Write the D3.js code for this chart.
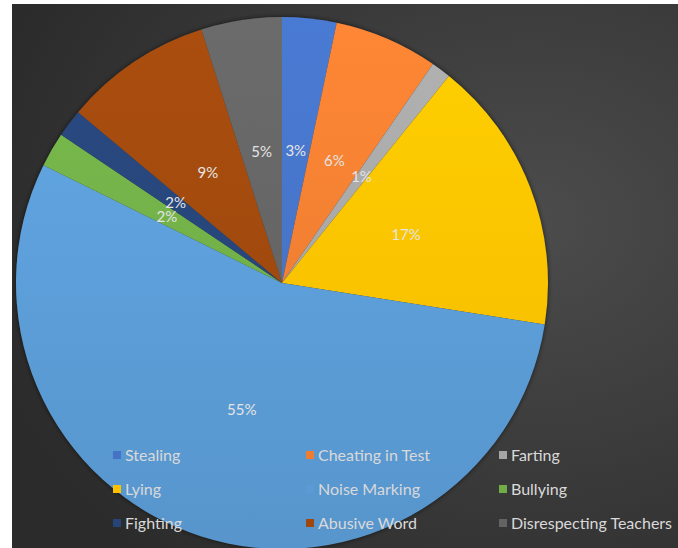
<!DOCTYPE html>
<html>
<head>
<meta charset="utf-8">
<script src="https://cdn.jsdelivr.net/npm/d3@7"></script>
<style>
  html, body { margin: 0; padding: 0; background: #fff; }
  svg { display: block; }
  text { font-family: Lato, "Open Sans", sans-serif; }
</style>
</head>
<body>
<div id="chart"></div>
<script>
const width = 678;
const height = 548;

// slice shares, clockwise from 12 o'clock
const categories = [
  "Stealing", "Cheating in Test", "Farting",
  "Lying", "Noise Marking", "Bullying",
  "Fighting", "Abusive Word", "Disrespecting Teachers"
];
const values = [3.3, 6.3, 1.2, 16.7, 54.8, 2.1, 1.7, 9.0, 4.9];
const colors = [
  "#4472c4", "#ed7d31", "#a5a5a5",
  "#ffc000", "#5b9bd5", "#70ad47",
  "#264478", "#9e480e", "#636363"
];

const cx = 282;
const cy = 283;
const radius = 266;

const svg = d3
  .select("#chart")
  .append("svg")
  .attr("width", width)
  .attr("height", height);

const defs = svg.append("defs");

// chart area background
const bg = defs
  .append("radialGradient")
  .attr("id", "bg")
  .attr("cx", "78%")
  .attr("cy", "40%")
  .attr("r", "85%");
bg.append("stop").attr("offset", "0%").attr("stop-color", "#4c4c4c");
bg.append("stop").attr("offset", "100%").attr("stop-color", "#2b2b2b");

const shadow = defs
  .append("filter")
  .attr("id", "shadow")
  .attr("x", "-10%")
  .attr("y", "-10%")
  .attr("width", "120%")
  .attr("height", "120%");
shadow
  .append("feDropShadow")
  .attr("dx", 0)
  .attr("dy", 0)
  .attr("stdDeviation", 2.5)
  .attr("flood-color", "#000")
  .attr("flood-opacity", 0.6);

// vertical gradient per slice: lighter at the top
colors.forEach((c, i) => {
  const g = defs
    .append("linearGradient")
    .attr("id", `grad${i}`)
    .attr("gradientUnits", "userSpaceOnUse")
    .attr("x1", 0)
    .attr("y1", -radius)
    .attr("x2", 0)
    .attr("y2", radius);
  g.append("stop").attr("offset", "0%").attr("stop-color", d3.color(c).brighter(0.22));
  g.append("stop").attr("offset", "100%").attr("stop-color", d3.color(c).darker(0.12));
});

svg
  .append("rect")
  .attr("x", 12)
  .attr("y", 4)
  .attr("width", width - 12)
  .attr("height", height - 4)
  .attr("fill", "url(#bg)");

const clip = defs.append("clipPath").attr("id", "area");
clip
  .append("rect")
  .attr("x", 12)
  .attr("y", 4)
  .attr("width", width - 12)
  .attr("height", height - 4);

const pie = d3.pie().sort(null).value((d) => d);
const arcs = pie(values);
const total = d3.sum(values);

const arc = d3.arc().innerRadius(0).outerRadius(radius);

const plot = svg
  .append("g")
  .attr("clip-path", "url(#area)")
  .append("g")
  .attr("transform", `translate(${cx}, ${cy})`);

plot
  .append("circle")
  .attr("r", radius)
  .attr("fill", "#333")
  .attr("filter", "url(#shadow)");

plot
  .selectAll("path")
  .data(arcs)
  .enter()
  .append("path")
  .attr("d", arc)
  .attr("fill", (d, i) => `url(#grad${i})`);

// percentage labels at half radius
plot
  .selectAll("text.pct")
  .data(arcs)
  .enter()
  .append("text")
  .attr("class", "pct")
  .attr("transform", (d) => `translate(${arc.centroid(d)})`)
  .attr("text-anchor", "middle")
  .attr("dy", "0.35em")
  .attr("fill", "#e4e4e4")
  .style("font-size", "15px")
  .text((d) => `${Math.round((d.value / total) * 100)}%`);

// legend, three columns
const legendX = [113, 306, 499];
const legendY = [455, 489, 523];

const legend = svg
  .append("g")
  .selectAll("g")
  .data(categories)
  .enter()
  .append("g")
  .attr("transform", (d, i) => `translate(${legendX[i % 3]}, ${legendY[Math.floor(i / 3)]})`);

legend
  .append("rect")
  .attr("x", 0)
  .attr("y", -4)
  .attr("width", 8)
  .attr("height", 8)
  .attr("fill", (d, i) => colors[i]);

legend
  .append("text")
  .attr("x", 12)
  .attr("dy", "0.35em")
  .attr("fill", "#d9d9d9")
  .style("font-size", "16px")
  .text((d) => d);
</script>
</body>
</html>
